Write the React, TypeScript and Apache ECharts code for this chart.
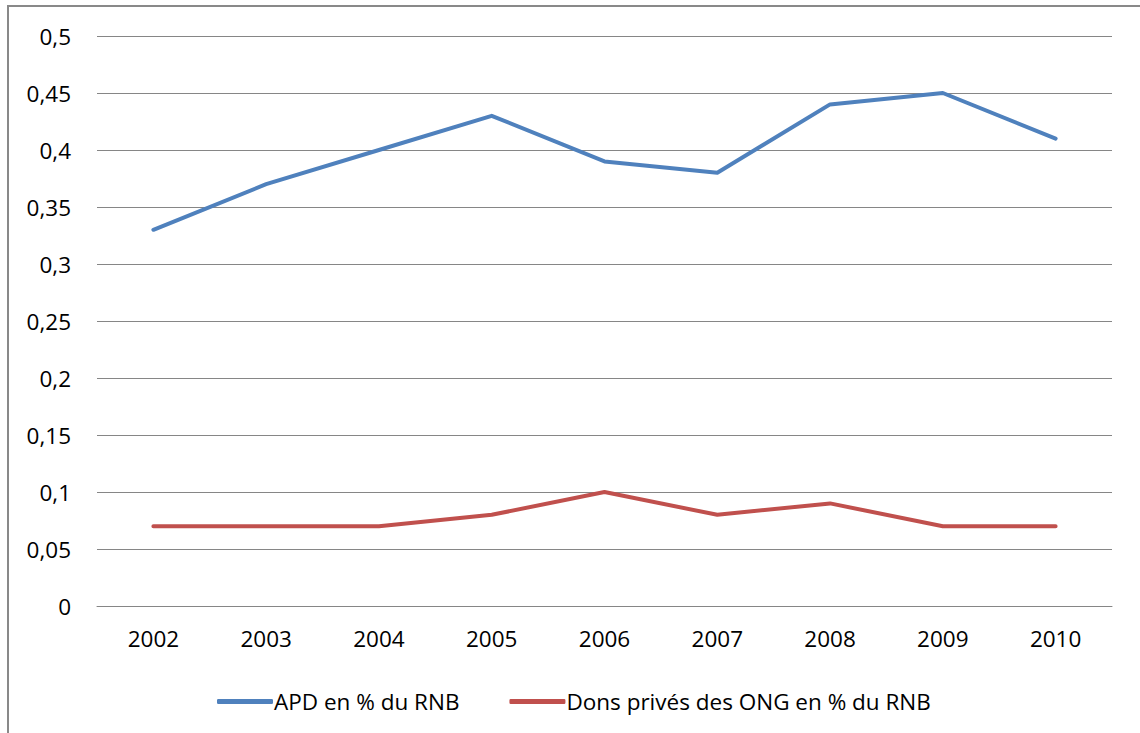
import React, { useEffect, useRef } from "react";
import * as echarts from "echarts";

const years = ["2002", "2003", "2004", "2005", "2006", "2007", "2008", "2009", "2010"];
const apd = [0.33, 0.37, 0.4, 0.43, 0.39, 0.38, 0.44, 0.45, 0.41];
const dons = [0.07, 0.07, 0.07, 0.08, 0.1, 0.08, 0.09, 0.07, 0.07];
const seriesNames = ["APD en % du RNB", "Dons privés des ONG en % du RNB"];

const FONT = "'Open Sans', 'Noto Sans', sans-serif";
const FS = 22.5;

export default function App() {
  const ref = useRef<HTMLDivElement>(null);
  useEffect(() => {
    if (!ref.current) return;
    const chart = echarts.init(ref.current, null, { renderer: "svg" });
    chart.setOption({
      animation: false,
      backgroundColor: "#ffffff",
      textStyle: { fontFamily: FONT },
      graphic: [
        {
          type: "rect",
          shape: { x: 8, y: 6, width: 1300, height: 900 },
          style: { fill: "none", stroke: "#898989", lineWidth: 2 },
          silent: true,
        },
      ],
      grid: { left: 97, right: 28, top: 36, bottom: 127, containLabel: false },
      legend: {
        left: 212,
        top: 685,
        icon: "roundRect",
        itemWidth: 56,
        itemHeight: 5,
        itemGap: 50,
        textStyle: { fontFamily: FONT, fontSize: FS, color: "#000000", padding: [0, 0, 0, -4] },
        data: seriesNames,
      },
      xAxis: {
        type: "category",
        data: years,
        boundaryGap: true,
        axisLine: { show: true, lineStyle: { color: "#868686", width: 1 } },
        axisTick: { show: false },
        axisLabel: { margin: 21, fontSize: FS, color: "#000000", fontFamily: FONT },
      },
      yAxis: {
        type: "value",
        min: 0,
        max: 0.5,
        interval: 0.05,
        axisLine: { show: false },
        axisTick: { show: false },
        splitLine: { show: true, lineStyle: { color: "#868686", width: 1 } },
        axisLabel: {
          margin: 26,
          fontSize: FS,
          color: "#000000",
          fontFamily: FONT,
          formatter: (v: number) => String(Math.round(v * 100) / 100).replace(".", ","),
        },
      },
      series: [
        {
          name: seriesNames[0],
          type: "line",
          data: apd,
          symbol: "none",
          lineStyle: { color: "#4F81BD", width: 4, cap: "round", join: "round" },
          itemStyle: { color: "#4F81BD" },
        },
        {
          name: seriesNames[1],
          type: "line",
          data: dons,
          symbol: "none",
          lineStyle: { color: "#C0504D", width: 4, cap: "round", join: "round" },
          itemStyle: { color: "#C0504D" },
        },
      ],
    });
    return () => chart.dispose();
  }, []);
  return (
    <div
      ref={ref}
      style={{ position: "absolute", left: 0, top: 0, width: 1140, height: 733 }}
    />
  );
}
